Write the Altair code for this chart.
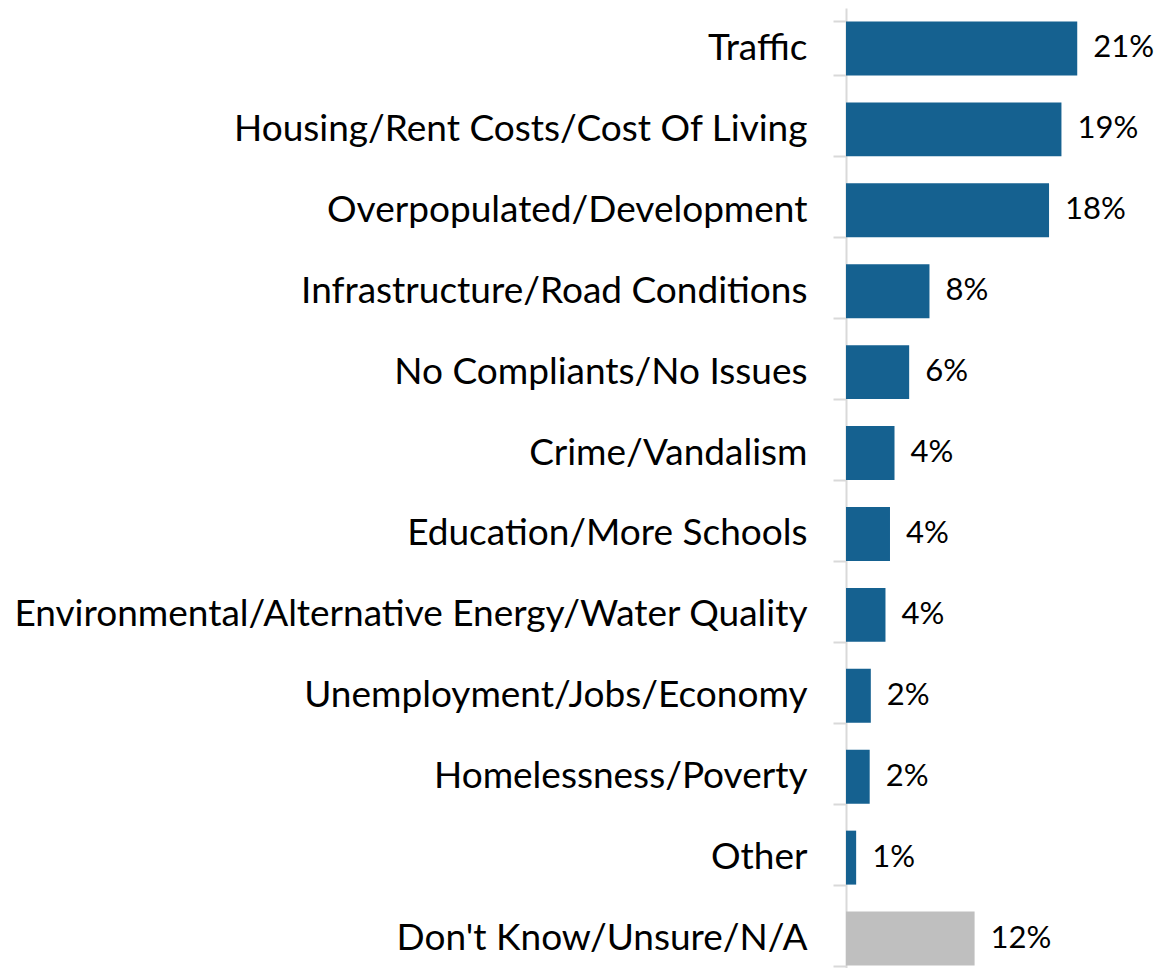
import altair as alt
import pandas as pd

categories = [
    "Traffic",
    "Housing/Rent Costs/Cost Of Living",
    "Overpopulated/Development",
    "Infrastructure/Road Conditions",
    "No Compliants/No Issues",
    "Crime/Vandalism",
    "Education/More Schools",
    "Environmental/Alternative Energy/Water Quality",
    "Unemployment/Jobs/Economy",
    "Homelessness/Poverty",
    "Other",
    "Don't Know/Unsure/N/A",
]
values = [20.5, 19.1, 18.0, 7.4, 5.6, 4.3, 3.9, 3.5, 2.2, 2.1, 0.9, 11.4]
value_labels = ["21%", "19%", "18%", "8%", "6%", "4%", "4%", "4%", "2%", "2%", "1%", "12%"]
groups = ["answer"] * 11 + ["unsure"]

df = pd.DataFrame({"category": categories, "value": values,
                   "label": value_labels, "group": groups})

FONT = "Lato"

y = alt.Y(
    "category:N", sort=categories, title=None,
    scale=alt.Scale(range=[0, 971], paddingInner=1 / 3, paddingOuter=1 / 6),
    axis=alt.Axis(
        labelFont=FONT, labelFontSize=37, labelColor="#000000",
        labelPadding=26, labelLimit=2000,
        tickSize=13, tickColor="#D9D9D9", tickWidth=2, tickBand="extent",
        domainColor="#D9D9D9", domainWidth=2, grid=False,
    ),
)
x = alt.X("value:Q", axis=None, scale=alt.Scale(domain=[0, 25], nice=False, zero=True))

bars = alt.Chart(df).mark_bar().encode(
    x=x, y=y,
    color=alt.Color("group:N", legend=None,
                    scale=alt.Scale(domain=["answer", "unsure"], range=["#156190", "#BFBFBF"])),
)
text = alt.Chart(df).mark_text(
    align="left", baseline="middle", dx=16, font=FONT, fontSize=31, color="#000000"
).encode(x=x, y=y, text="label:N")

chart = alt.layer(bars, text).properties(
    width=282, height=960,
    autosize=alt.AutoSizeParams(type="none"),
    padding={"left": 838, "top": 0, "right": 27, "bottom": 0},
).configure_view(stroke=None)

chart.save("out.html", embed_options={"renderer": "svg", "actions": False})
